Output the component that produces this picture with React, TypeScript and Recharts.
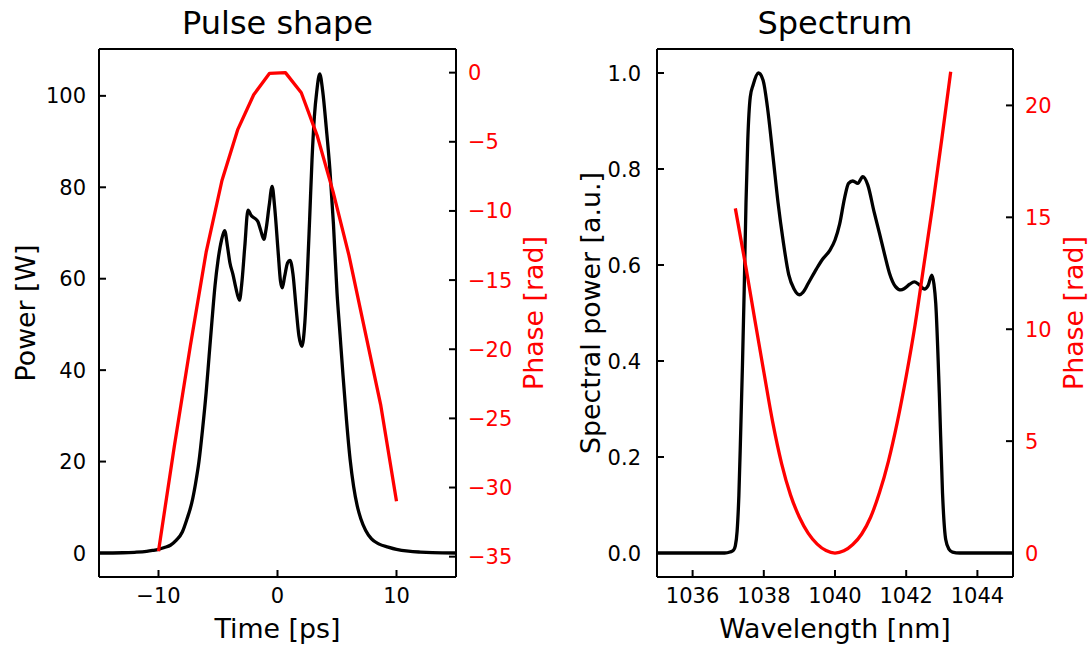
import React from 'react';
import { LineChart, Line, XAxis, YAxis, Label, ReferenceLine } from 'recharts';

const FONT = '"DejaVu Sans", Verdana, sans-serif';

// ---------- Pulse shape ----------
const pulseTime = [
  -15, -13, -12, -11, -10.5, -10, -9.5, -9, -8.5, -8, -7.6, -7.2, -6.9, -6.6, -6.3, -6.0, -5.75, -5.5, -5.25, -5.0,
  -4.7, -4.44, -4.2, -4.0, -3.75, -3.5, -3.2, -3.0, -2.75, -2.48, -2.2, -1.9, -1.65, -1.4, -1.15, -0.95, -0.7, -0.45,
  -0.25, 0.05, 0.25, 0.4, 0.6, 0.85, 1.05, 1.3, 1.55, 1.8, 2.05, 2.3, 2.5, 2.7, 2.9, 3.1, 3.3, 3.55, 3.8, 4.1, 4.4,
  4.7, 5.0, 5.25, 5.5, 5.8, 6.1, 6.4, 6.7, 7.0, 7.4, 7.9, 8.5, 9.3, 10.0, 11, 12, 13, 15,
];
const pulsePower = [
  0, 0.05, 0.15, 0.35, 0.55, 0.8, 1.2, 1.7, 2.8, 4.6, 7.5, 11, 15, 20, 27, 35, 43, 51, 58.5, 64,
  68.5, 70.5, 67, 63.5, 61, 58, 55.3, 59, 67, 75, 73.8, 73.2, 72.5, 70.5, 68.6, 71, 76, 80.2,
  76, 66, 59.5, 58, 60.5, 63.5, 64, 61, 54, 47.5, 45.2, 50.5, 60.5, 73, 86, 95.5, 101, 104.8, 101, 93, 84,
  72, 57, 48, 39, 29, 20.5, 14.5, 10.3, 7.5, 5, 3.1, 2.0, 1.3, 0.8, 0.4, 0.2, 0.08, 0,
];
const phaseTime = [-10, -8.667, -7.333, -6, -4.667, -3.333, -2, -0.667, 0.667, 2, 3.333, 4.667, 6, 7.333, 8.667, 10];
const pulsePhase = [-34.6, -27.0, -19.8, -13.0, -7.8, -4.1, -1.6, -0.05, 0, -1.45, -4.55, -8.6, -13.2, -18.6, -24.0, -31.0];

const timeTicks = [-10, 0, 10];
const powerTicks = [0, 20, 40, 60, 80, 100];
const pulsePhaseTicks = [0, -5, -10, -15, -20, -25, -30, -35];

// ---------- Spectrum ----------
const specWl = [
  1035, 1036.9, 1037.05, 1037.15, 1037.2, 1037.25, 1037.3, 1037.35, 1037.4, 1037.45, 1037.5, 1037.55, 1037.62, 1037.7,
  1037.85, 1037.98, 1038.1, 1038.26, 1038.4, 1038.54, 1038.7, 1038.85, 1039.0, 1039.1, 1039.25, 1039.48, 1039.65,
  1039.85, 1040.0, 1040.13, 1040.27, 1040.38, 1040.5, 1040.64, 1040.78, 1040.92, 1041.1, 1041.25, 1041.4, 1041.53,
  1041.7, 1041.85, 1041.95, 1042.1, 1042.23, 1042.35, 1042.51, 1042.62, 1042.72, 1042.78, 1042.83, 1042.93, 1043.02,
  1043.11, 1043.2, 1043.3, 1043.5, 1045,
];
const specPower = [
  0, 0, 0.002, 0.006, 0.015, 0.045, 0.12, 0.25, 0.39, 0.55, 0.73, 0.86, 0.95, 0.975,
  1.0, 0.985, 0.93, 0.825, 0.73, 0.652, 0.58, 0.55, 0.538, 0.543, 0.562, 0.592, 0.612,
  0.63, 0.652, 0.685, 0.74, 0.77, 0.775, 0.77, 0.784, 0.767, 0.71, 0.666, 0.62, 0.583,
  0.555, 0.548, 0.551, 0.56, 0.565, 0.56, 0.55, 0.558, 0.579, 0.56, 0.52, 0.333, 0.125,
  0.028, 0.008, 0.002, 0, 0,
];
const specPhaseWl = [
  1037.2, 1037.5, 1037.75, 1038.0, 1038.25, 1038.5, 1038.75, 1039.0, 1039.25, 1039.5, 1039.75, 1040.0, 1040.25,
  1040.5, 1040.75, 1041.0, 1041.25, 1041.5, 1041.75, 1042.0, 1042.25, 1042.5, 1042.75, 1043.0, 1043.25,
];
const specPhase = [
  15.4, 12.75, 10.4, 8.1, 5.85, 4.0, 2.6, 1.6, 0.88, 0.4, 0.11, 0, 0.1,
  0.38, 0.85, 1.6, 2.7, 4.1, 5.85, 7.9, 10.2, 12.9, 15.6, 18.5, 21.5,
];

const wlTicks = [1036, 1038, 1040, 1042, 1044];
const specTicks = [0, 0.2, 0.4, 0.6, 0.8, 1.0];
const specPhaseTicks = [0, 5, 10, 15, 20];

const powerData = pulseTime.map((x, i) => ({ x, y: pulsePower[i] }));
const pulsePhaseData = phaseTime.map((x, i) => ({ x, y: pulsePhase[i] }));
const specData = specWl.map((x, i) => ({ x, y: specPower[i] }));
const specPhaseData = specPhaseWl.map((x, i) => ({ x, y: specPhase[i] }));

const minus = (v: number) => (v < 0 ? '\u2212' + Math.abs(v) : String(v));
const oneDec = (v: number) => v.toFixed(1);
const plain = (v: number) => String(v);

const TICK = 21;
const LABEL = 26.8;
const TITLE = 32;
const LW = 3.3;
const TLEN = 7;
const spine = { stroke: '#000', strokeWidth: 2 };

const PLOT_TOP = 49;
const PLOT_BOTTOM = 577;

const txt = (value: string, x: number, y: number, size: number, color = '#000', rotate = false) => () => (
  <text
    x={x}
    y={y}
    fill={color}
    fontSize={size}
    fontFamily={FONT}
    textAnchor="middle"
    transform={rotate ? `rotate(-90 ${x} ${y})` : undefined}
  >
    {value}
  </text>
);

const bottomTick = (fmt: (v: number) => string) => (p: any) => (
  <g>
    <line x1={p.x} x2={p.x} y1={PLOT_BOTTOM} y2={PLOT_BOTTOM - TLEN} stroke="#000" strokeWidth={2} />
    <text x={p.x} y={p.y + 16} textAnchor="middle" fill="#000" fontSize={TICK} fontFamily={FONT}>
      {fmt(p.payload.value)}
    </text>
  </g>
);

const leftTick = (fmt: (v: number) => string, spineX: number) => (p: any) => (
  <g>
    <line x1={spineX} x2={spineX + TLEN} y1={p.y} y2={p.y} stroke="#000" strokeWidth={2} />
    <text x={p.x} y={p.y + 7.5} textAnchor="end" fill="#000" fontSize={TICK} fontFamily={FONT}>
      {fmt(p.payload.value)}
    </text>
  </g>
);

const rightTick = (fmt: (v: number) => string, spineX: number) => (p: any) => (
  <g>
    <line x1={spineX} x2={spineX - TLEN} y1={p.y} y2={p.y} stroke="#000" strokeWidth={2} />
    <text x={p.x} y={p.y + 7.5} textAnchor="start" fill="#ff0000" fontSize={TICK} fontFamily={FONT}>
      {fmt(p.payload.value)}
    </text>
  </g>
);

function PulseChart() {
  const left = 99;
  const right = 456;
  const cx = (left + right) / 2;
  return (
    <LineChart width={560} height={646} margin={{ top: PLOT_TOP, right: 0, bottom: 0, left: 0 }}>
      <XAxis
        xAxisId="b"
        dataKey="x"
        type="number"
        domain={[-15, 15]}
        allowDataOverflow
        ticks={timeTicks}
        interval={0}
        height={646 - PLOT_BOTTOM}
        tickSize={0}
        tickMargin={10}
        axisLine={spine}
        tickLine={false}
        tick={bottomTick(minus)}
      >
        <Label content={txt('Time [ps]', cx, 638, LABEL)} />
      </XAxis>
      <YAxis
        yAxisId="l"
        type="number"
        domain={[-5.25, 110.25]}
        allowDataOverflow
        ticks={powerTicks}
        interval={0}
        width={left}
        tickSize={0}
        tickMargin={13}
        axisLine={spine}
        tickLine={false}
        tick={leftTick(plain, left)}
      >
        <Label content={txt('Power [W]', 35, 313, LABEL, '#000', true)} />
      </YAxis>
      <YAxis
        yAxisId="r"
        orientation="right"
        type="number"
        domain={[-36.47, 1.71]}
        allowDataOverflow
        ticks={pulsePhaseTicks}
        interval={0}
        width={560 - right}
        tickSize={0}
        tickMargin={12}
        axisLine={spine}
        tickLine={false}
        tick={rightTick(minus, right)}
      >
        <Label content={txt('Phase [rad]', 543, 313, LABEL, '#ff0000', true)} />
      </YAxis>
      <ReferenceLine xAxisId="b" yAxisId="l" y={110.25} stroke="#000" strokeWidth={2}>
        <Label content={txt('Pulse shape', cx, 34, TITLE)} />
      </ReferenceLine>
      <Line
        xAxisId="b"
        yAxisId="l"
        data={powerData}
        dataKey="y"
        type="monotone"
        stroke="#000"
        strokeWidth={LW}
        strokeLinejoin="round"
        dot={false}
        activeDot={false}
        isAnimationActive={false}
      />
      <Line
        xAxisId="b"
        yAxisId="r"
        data={pulsePhaseData}
        dataKey="y"
        type="linear"
        stroke="#ff0000"
        strokeWidth={LW}
        strokeLinejoin="round"
        dot={false}
        activeDot={false}
        isAnimationActive={false}
      />
    </LineChart>
  );
}

function SpectrumChart() {
  const left = 97;
  const right = 453;
  const cx = (left + right) / 2;
  return (
    <LineChart width={531} height={646} margin={{ top: PLOT_TOP, right: 0, bottom: 0, left: 0 }}>
      <XAxis
        xAxisId="b"
        dataKey="x"
        type="number"
        domain={[1035, 1045]}
        allowDataOverflow
        ticks={wlTicks}
        interval={0}
        height={646 - PLOT_BOTTOM}
        tickSize={0}
        tickMargin={10}
        axisLine={spine}
        tickLine={false}
        tick={bottomTick(plain)}
      >
        <Label content={txt('Wavelength [nm]', cx, 638, LABEL)} />
      </XAxis>
      <YAxis
        yAxisId="l"
        type="number"
        domain={[-0.05, 1.05]}
        allowDataOverflow
        ticks={specTicks}
        interval={0}
        width={left}
        tickSize={0}
        tickMargin={16}
        axisLine={spine}
        tickLine={false}
        tick={leftTick(oneDec, left)}
      >
        <Label content={txt('Spectral power [a.u.]', 40, 313, LABEL, '#000', true)} />
      </YAxis>
      <YAxis
        yAxisId="r"
        orientation="right"
        type="number"
        domain={[-1.07, 22.52]}
        allowDataOverflow
        ticks={specPhaseTicks}
        interval={0}
        width={531 - right}
        tickSize={0}
        tickMargin={12}
        axisLine={spine}
        tickLine={false}
        tick={rightTick(plain, right)}
      >
        <Label content={txt('Phase [rad]', 523, 313, LABEL, '#ff0000', true)} />
      </YAxis>
      <ReferenceLine xAxisId="b" yAxisId="l" y={1.05} stroke="#000" strokeWidth={2}>
        <Label content={txt('Spectrum', cx, 34, TITLE)} />
      </ReferenceLine>
      <Line
        xAxisId="b"
        yAxisId="l"
        data={specData}
        dataKey="y"
        type="monotone"
        stroke="#000"
        strokeWidth={LW}
        strokeLinejoin="round"
        dot={false}
        activeDot={false}
        isAnimationActive={false}
      />
      <Line
        xAxisId="b"
        yAxisId="r"
        data={specPhaseData}
        dataKey="y"
        type="monotone"
        stroke="#ff0000"
        strokeWidth={LW}
        strokeLinejoin="round"
        dot={false}
        activeDot={false}
        isAnimationActive={false}
      />
    </LineChart>
  );
}

export default function App() {
  return (
    <div style={{ position: 'absolute', left: 0, top: 0, width: 1091, height: 646, background: '#fff' }}>
      <div style={{ position: 'absolute', left: 0, top: 0 }}>
        <PulseChart />
      </div>
      <div style={{ position: 'absolute', left: 560, top: 0 }}>
        <SpectrumChart />
      </div>
    </div>
  );
}
